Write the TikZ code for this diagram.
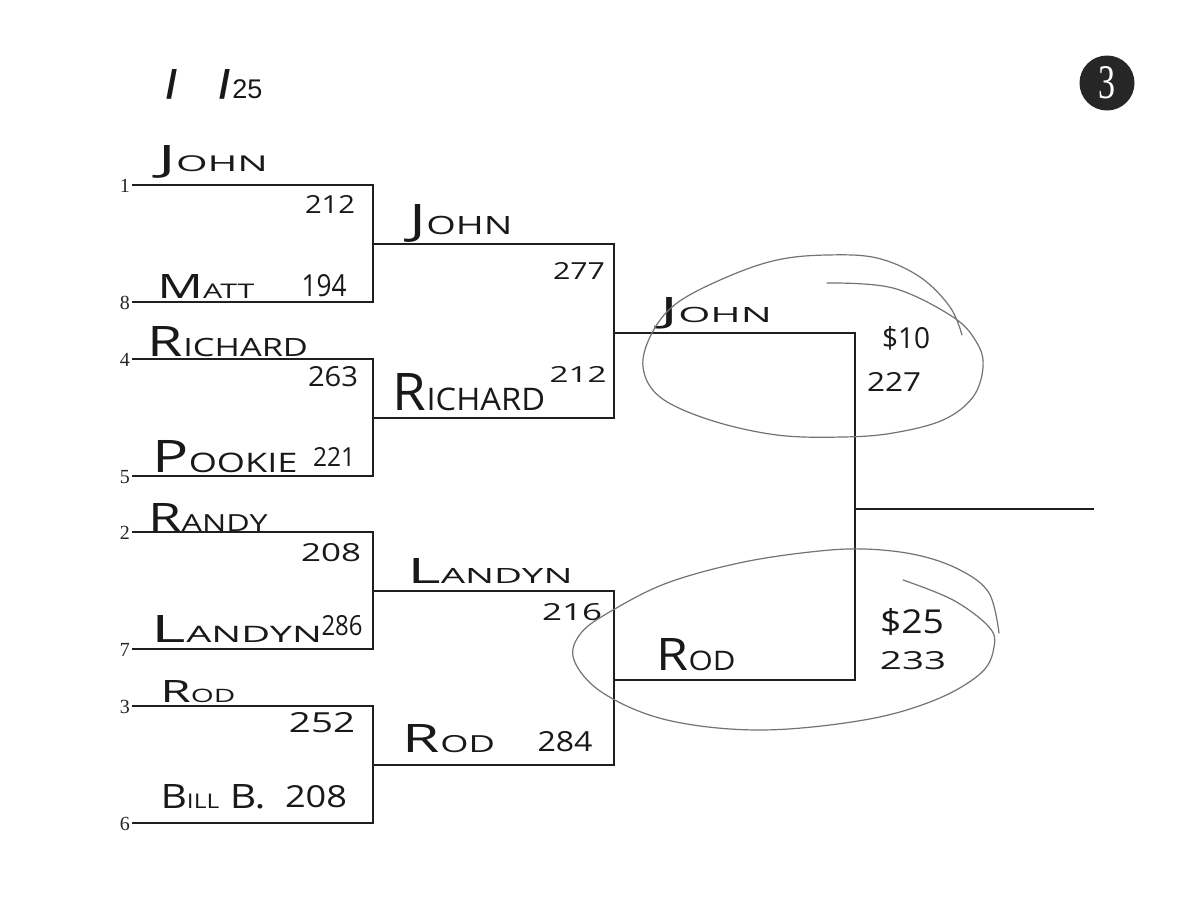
\documentclass[tikz,border=0pt]{standalone}
\usepackage{fontspec}
\setmainfont{Liberation Serif}
\newfontfamily\handfont{Open Sans}
\newfontfamily\labfont{Liberation Sans}
\usepackage{graphicx}
\newcommand\hw[3]{\resizebox{#1pt}{#2pt}{\handfont #3}}
\newcommand\cp[2]{#1{\fontsize{6}{6}\selectfont #2}}
\begin{document}
\begin{tikzpicture}[x=1pt,y=-1pt,
  bracket/.style={draw=black!88, line width=2.2pt, line join=miter, line cap=rect},
  seed/.style={anchor=east, inner sep=0pt, font=\fontsize{20}{20}\selectfont, text=black!85},
  hand/.style={inner sep=0pt, text=black!90},
  ring/.style={draw=black!55, line width=1.2pt, line cap=round, line join=round}]
\useasboundingbox (0,0) rectangle (1200,919);
\fill[white] (0,0) rectangle (1200,919);

% header
\node[hand, font=\labfont, anchor=base] (slashA) at (172,98) {\fontsize{40}{40}\selectfont\bfseries /};
\node[hand, font=\labfont, anchor=base west] (slashB) at (219,98) {{\fontsize{40}{40}\selectfont\bfseries /}\hspace{2pt}{\fontsize{27}{27}\selectfont 25}};
\node[circle, fill=black!85, minimum size=55pt, inner sep=0pt, text=white] (badge) at (1107,83) {\resizebox{17pt}{32pt}{3}};

% seeds
\foreach \i/\y/\s in {a/185/1, b/302/8, c/359/4, d/476/5, e/532/2, f/649/7, g/706/3, h/823/6} {
  \coordinate (L\i) at (133,\y);
  \coordinate (R\i) at (373,\y);
  \node[seed] (seed\i) at (130,\y+1) {\s};
}
\coordinate (ma) at (373,244); \coordinate (ta) at (614,244);
\coordinate (mb) at (373,418); \coordinate (tb) at (614,418);
\coordinate (mc) at (373,591); \coordinate (tc) at (614,591);
\coordinate (md) at (373,765); \coordinate (td) at (614,765);
\coordinate (ua) at (614,333); \coordinate (va) at (855,333);
\coordinate (ub) at (614,680); \coordinate (vb) at (855,680);
\coordinate (w) at (855,509); \coordinate (fin) at (1093,509);

\draw[bracket] (La) -- (Ra) -- (Rb) -- (Lb);
\draw[bracket] (Lc) -- (Rc) -- (Rd) -- (Ld);
\draw[bracket] (Le) -- (Re) -- (Rf) -- (Lf);
\draw[bracket] (Lg) -- (Rg) -- (Rh) -- (Lh);
\draw[bracket] (ma) -- (ta) -- (tb) -- (mb);
\draw[bracket] (mc) -- (tc) -- (td) -- (md);
\draw[bracket] (ua) -- (va) -- (vb) -- (ub);
\draw[bracket] (w) -- (fin);

% round 1 names and scores
\node[hand] (n1) at (213,162) {\hw{110}{26}{\cp{J}{OHN}}};
\node[hand] (s1) at (330,204) {\hw{50}{18}{212}};
\node[hand] (n8) at (206,286) {\hw{97}{24}{\cp{M}{ATT}}};
\node[hand] (s8) at (324,286) {\hw{45}{22}{194}};
\node[hand] (n4) at (228,342) {\hw{160}{30}{\cp{R}{ICHARD}}};
\node[hand] (s4) at (333,377) {\hw{50}{20}{263}};
\node[hand] (n5) at (225,457) {\hw{145}{32}{\cp{P}{OOKIE}}};
\node[hand] (s5) at (334,457) {\hw{42}{19}{221}};
\node[hand] (n2) at (208,517) {\hw{119}{28}{\cp{R}{ANDY}}};
\node[hand] (s2) at (331,553) {\hw{60}{18}{208}};
\node[hand] (n7) at (237,629) {\hw{170}{27}{\cp{L}{ANDYN}}};
\node[hand] (s7) at (342,626) {\hw{41}{20}{286}};
\node[hand] (n3) at (198,692) {\hw{75}{22}{\cp{R}{OD}}};
\node[hand] (s3) at (322,723) {\hw{66}{20}{252}};
\node[hand] (n6) at (213,797) {\hw{105}{24}{\cp{B}{ILL} B.}};
\node[hand] (s6) at (316,797) {\hw{62}{22}{208}};

% round 2
\node[hand] (q1) at (461,223) {\hw{103}{30}{\cp{J}{OHN}}};
\node[hand] (p1) at (579,271) {\hw{52}{17}{277}};
\node[hand] (p2) at (578,374) {\hw{57}{16}{212}};
\node[hand] (q2) at (469,392) {\hw{152}{37}{\cp{R}{ICHARD}}};
\node[hand] (q3) at (490,571) {\hw{165}{25}{\cp{L}{ANDYN}}};
\node[hand] (p3) at (572,612) {\hw{60}{17}{216}};
\node[hand] (q4) at (449,739) {\hw{92}{28}{\cp{R}{OD}}};
\node[hand] (p4) at (565,742) {\hw{55}{20}{284}};

% round 3
\node[hand] (f1) at (716,313) {\hw{112}{25}{\cp{J}{OHN}}};
\node[hand] (d1) at (906,338) {\hw{48}{22}{\$10}};
\node[hand] (k1) at (894,382) {\hw{54}{19}{227}};
\node[hand] (f2) at (696,655) {\hw{79}{32}{\cp{R}{OD}}};
\node[hand] (d2) at (912,622) {\hw{64}{25}{\$25}};
\node[hand] (k2) at (913,661) {\hw{66}{18}{233}};

% hand-drawn loops
\draw[ring] plot[smooth, tension=0.6] coordinates {(827,283) (893,288) (953,317) (977,343) (983,367) (973,397) (943,420) (893,433) (843,437) (777,435) (710,420) (660,397) (643,367) (652,333) (677,303) (727,277) (777,260) (827,255) (877,258) (920,277) (950,307) (962,335)};
\draw[ring] plot[smooth, tension=0.6] coordinates {(903,580) (953,600) (989,627) (994,647) (981,673) (935,700) (864,720) (760,730) (667,720) (603,693) (574,660) (581,633) (613,610) (667,583) (739,563) (810,552) (864,549) (917,555) (960,570) (989,593) (999,633)};
\end{tikzpicture}
\end{document}
